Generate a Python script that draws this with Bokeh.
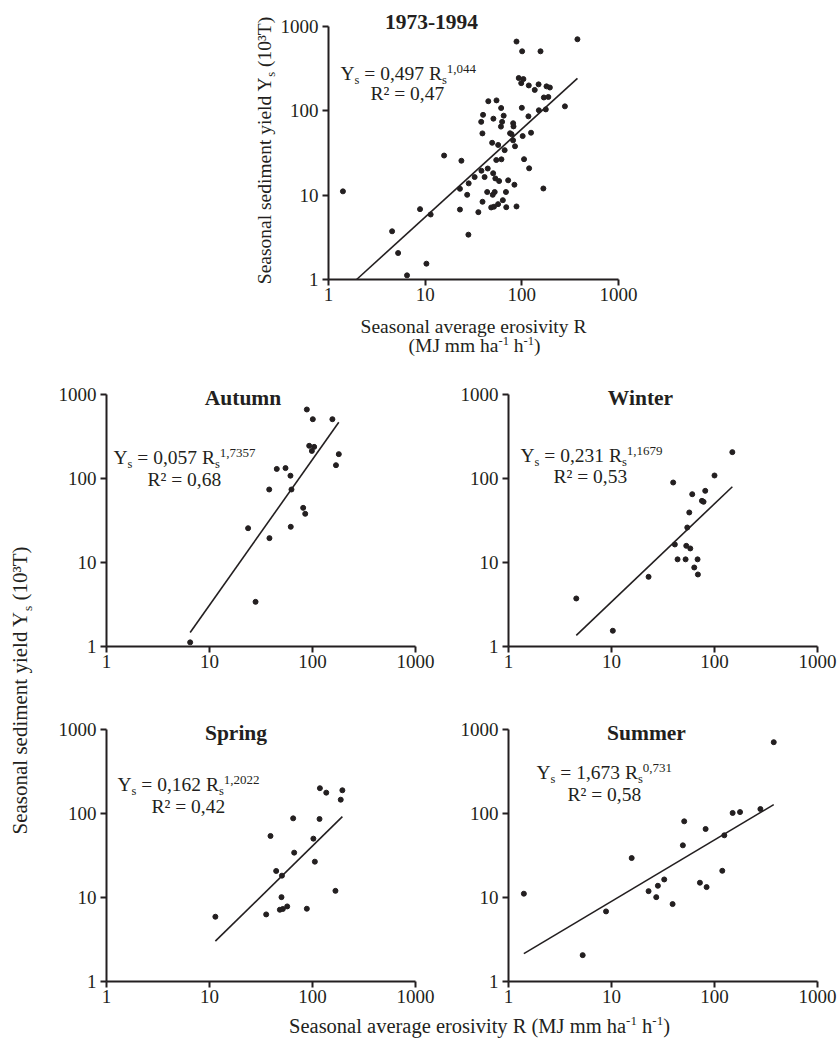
import math
import numpy as np
from bokeh.plotting import figure
from bokeh.models import (Range1d, Label, FixedTicker, PrintfTickFormatter,
                          LogAxis, LogScale)
from bokeh.embed import file_html
from bokeh.resources import INLINE

# ---------------- data ----------------
autumn_R = [6.49, 23.7, 28.0, 38.0, 38.2, 45.0, 54.7, 61.1, 62.5, 61.5,
            81.2, 85.0, 88.1, 92.9, 98.6, 100.7, 103.8, 156, 169, 180]
autumn_Y = [1.12, 25.6, 3.4, 74, 19.5, 130, 133, 108, 74, 26.6,
            44.7, 38, 663, 245, 213, 508, 238, 508, 144, 195]

winter_R = [4.55, 10.3, 22.9, 39.7, 41.2, 43.8, 52.4, 53.2, 54.4, 56.9,
            58.2, 60.8, 63.6, 68.5, 69.0, 75.5, 78.3, 81.3, 100, 149]
winter_Y = [3.73, 1.54, 6.75, 89.6, 16.4, 10.9, 10.9, 15.8, 26.1, 39.4,
            14.7, 65, 8.72, 10.9, 7.2, 54.2, 52.8, 71.3, 108.6, 206]

spring_R = [11.4, 35.5, 39.1, 44.4, 48.2, 50.0, 50.5, 51.5, 56.8, 64.9,
            66.4, 88.1, 102, 105.4, 117, 118, 136, 167, 188, 195]
spring_Y = [5.9, 6.29, 54, 20.7, 7.15, 10.1, 18.2, 7.3, 7.83, 87.6,
            34.2, 7.35, 50.2, 26.7, 86, 200, 177, 12, 146, 189]

summer_R = [1.41, 5.25, 8.85, 15.7, 22.9, 27.2, 28.2, 32.5, 39.2, 49.3,
            50.8, 72.2, 82, 83.8, 119, 124.5, 150, 177, 279, 376]
summer_Y = [11.1, 2.06, 6.83, 29.5, 11.9, 10.1, 13.8, 16.4, 8.35, 41.8,
            80.7, 15, 65.4, 13.3, 20.8, 55, 101.5, 104, 113, 706]

panel_names = ["1973-1994", "Autumn", "Winter", "Spring", "Summer"]
fit_coef = [0.497, 0.057, 0.231, 0.162, 1.673]
fit_exp = [1.044, 1.7357, 1.1679, 1.2022, 0.731]
fit_r2 = [0.47, 0.68, 0.53, 0.42, 0.58]
axis_ticks = [1, 10, 100, 1000]
axis_lo, axis_hi = 1, 1000

all_R = autumn_R + winter_R + spring_R + summer_R
all_Y = autumn_Y + winter_Y + spring_Y + summer_Y

# ---------------- styling ----------------
FONT = "Liberation Serif"
INK = "#231f20"
PW, PH = 839, 1042
BASE_FIX = 0.36   # Label "alphabetic" anchor sits ~0.36em above the drawn baseline

# Times / Liberation Serif advance widths (1/1000 em)
W = {' ': 250, '(': 333, ')': 333, ',': 250, '-': 333, '.': 250, '=': 564,
     '²': 300, '³': 300, '¹': 300,
     'A': 722, 'J': 389, 'M': 889, 'R': 667, 'S': 556, 'T': 611, 'Y': 722,
     'a': 444, 'd': 500, 'e': 444, 'g': 500, 'h': 500, 'i': 278, 'l': 278,
     'm': 778, 'n': 500, 'o': 500, 'r': 333, 's': 389, 't': 278, 'v': 500,
     'y': 500}


def text_w(t, size):
    return sum(W.get(c, 500) for c in t) * size / 1000.0


# one page-sized canvas; its default ranges are page pixels (y downwards)
p = figure(width=PW, height=PH, title=None,
           x_range=Range1d(0, PW), y_range=Range1d(PH, 0),
           toolbar_location=None, output_backend="svg", min_border=0,
           x_axis_location=None, y_axis_location=None)
p.grid.visible = False
p.outline_line_color = None
p.background_fill_color = "white"
p.border_fill_color = "white"

# panel frames in page pixels: (left, right, top, bottom) of the 1..1000 box
frames = {
    "top": (328, 618, 26, 279),
    "autumn": (106, 415, 394, 646),
    "winter": (508, 817, 394, 646),
    "spring": (106, 415, 729, 981),
    "summer": (508, 817, 729, 981),
}

xr, yr, xs_, ys_ = {}, {}, {}, {}
dec = math.log10(axis_hi / axis_lo)
for name, (fl, fr, ft, fb) in frames.items():
    xr[name] = Range1d(axis_lo * 10 ** (dec * (0 - fl) / (fr - fl)),
                       axis_lo * 10 ** (dec * (PW - fl) / (fr - fl)))
    yr[name] = Range1d(axis_lo * 10 ** (dec * (fb - PH) / (fb - ft)),
                       axis_lo * 10 ** (dec * (fb - 0) / (fb - ft)))
    xs_[name] = LogScale()
    ys_[name] = LogScale()
p.extra_x_ranges = xr
p.extra_y_ranges = yr
p.extra_x_scales = xs_
p.extra_y_scales = ys_


def add_axes(name):
    for side in ("below", "left"):
        ax = LogAxis(x_range_name=name, y_range_name=name,
                     fixed_location=axis_lo, bounds=(axis_lo, axis_hi),
                     ticker=FixedTicker(ticks=axis_ticks),
                     formatter=PrintfTickFormatter(format="%d"),
                     axis_line_width=2, axis_line_color=INK,
                     major_tick_line_width=2, major_tick_line_color=INK,
                     major_tick_out=6, major_tick_in=0,
                     minor_tick_line_color=None,
                     major_label_text_font=FONT,
                     major_label_text_font_size="19px",
                     major_label_text_color=INK,
                     major_label_standoff=2 if side == "below" else 4)
        p.add_layout(ax, side)


def draw_series(name, xs, ys, k):
    p.scatter(xs, ys, size=5, color=INK, marker="circle",
              x_range_name=name, y_range_name=name)
    c, e = fit_coef[k], fit_exp[k]
    x0 = max(min(xs), (axis_lo / c) ** (1.0 / e))
    lx = np.array([x0, max(xs)])
    p.line(lx, c * lx ** e, line_width=1.6, color=INK,
           x_range_name=name, y_range_name=name)


def rich(segs, px, py, angle=0.0, align="left"):
    """segs: list of (text, size, shift); shift>0 raises (superscript)."""
    total = sum(text_w(t, s) for t, s, _ in segs)
    pos = -total / 2.0 if align == "center" else 0.0
    for t, s, sh in segs:
        lead = len(t) - len(t.lstrip(" "))
        trail = len(t) - len(t.rstrip(" "))
        core = t.strip(" ")
        pos += lead * W[' '] * s / 1000.0
        up = sh + BASE_FIX * s
        if angle == 0:
            ax, ay = px + pos, py - up
        else:
            ax, ay = px - up, py - pos
        p.add_layout(Label(x=ax, y=ay, text=core, text_font=FONT,
                           text_font_size=f"{s}px", text_color=INK,
                           text_baseline="alphabetic", text_align="left",
                           angle=angle))
        pos += text_w(core, s) + trail * W[' '] * s / 1000.0


def title(text, px, py, size=21.5):
    p.add_layout(Label(x=px, y=py - BASE_FIX * size, text=text, text_font=FONT,
                       text_font_size=f"{size}px", text_font_style="bold",
                       text_color=INK, text_baseline="alphabetic",
                       text_align="center"))


def fmt(v):
    return str(v).replace(".", ",")


def equation(k, ex, ey, rx, ry, M=19.5):
    SUB, SUP = 12.5, 13
    segs = [("Y", M, 0), ("s", SUB, -4), (f" = {fmt(fit_coef[k])} R", M, 0),
            ("s", SUB, -4), (fmt(fit_exp[k]), SUP, 7)]
    rich(segs, ex, ey)
    rich([(f"R² = {fmt(fit_r2[k])}", M, 0)], rx, ry)


# ---------------- top chart ----------------
add_axes("top")
draw_series("top", all_R, all_Y, 0)
title(panel_names[0], 431, 29.5)
equation(0, 340, 80, 370, 100)
rich([("Seasonal sediment yield Y", 19.5, 0), ("s", 12.5, -4),
      (" (10³T)", 19.5, 0)], 271, 150, angle=math.pi / 2, align="center")
rich([("Seasonal average erosivity R", 19.5, 0)], 473, 333, align="center")
rich([("(MJ mm ha", 19.5, 0), ("-1", 12.5, 7), (" h", 19.5, 0),
      ("-1", 12.5, 7), (")", 19.5, 0)], 474, 352, align="center")

# ---------------- seasonal panels ----------------
seasons = [("autumn", autumn_R, autumn_Y, (242.5, 405), (113, 464, 147, 486)),
           ("winter", winter_R, winter_Y, (640, 405), (520, 462, 553, 483)),
           ("spring", spring_R, spring_Y, (235.5, 740), (117, 791, 151, 813)),
           ("summer", summer_R, summer_Y, (646, 740), (536, 779, 567, 801))]
for k, (name, xs, ys, tpos, epos) in enumerate(seasons, start=1):
    add_axes(name)
    draw_series(name, xs, ys, k)
    title(panel_names[k], *tpos)
    equation(k, *epos)

# ---------------- shared labels ----------------
rich([("Seasonal sediment yield Y", 21, 0), ("s", 13.5, -4.5),
      (" (10³T)", 21, 0)], 27, 690, angle=math.pi / 2, align="center")
rich([("Seasonal average erosivity R (MJ mm ha", 20.5, 0), ("-1", 13, 7.5),
      (" h", 20.5, 0), ("-1", 13, 7.5), (")", 20.5, 0)], 479, 1033,
     align="center")

open("out.html", "w").write(file_html(p, INLINE))
